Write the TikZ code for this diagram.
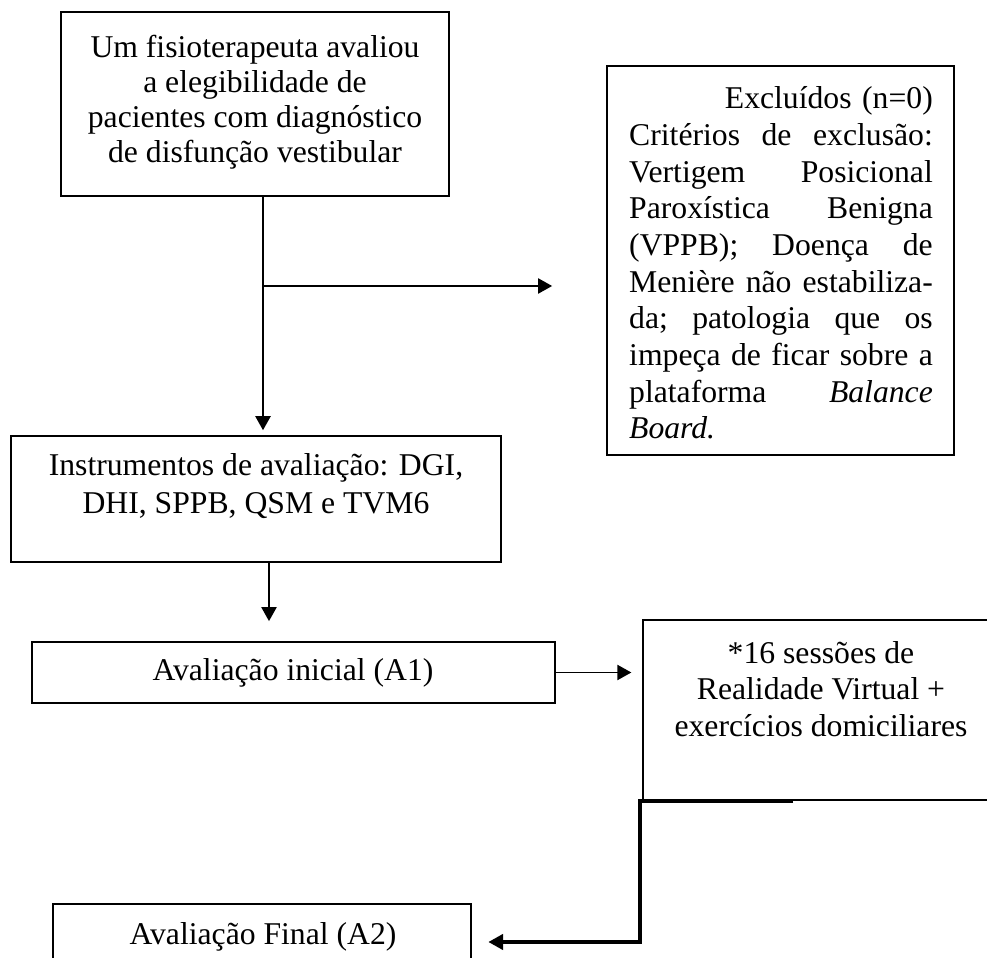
\documentclass[tikz,border=0pt]{standalone}
\usepackage{fontspec}
\setmainfont{Liberation Serif}
\usetikzlibrary{arrows.meta,calc}
\newcommand\jline[1]{\leavevmode\hbox to \linewidth{#1}}
\begin{document}
\begin{tikzpicture}[x=0.3788pt,y=-0.3788pt,
  box/.style={draw,line width=0.6pt,inner sep=0pt,rectangle},
  thinbox/.style={draw,line width=0.45pt,inner sep=0pt,rectangle},
  txt/.style={inner sep=0pt,align=center},
  arr/.style={line width=0.75pt,-{Triangle[length=5.3pt,width=5.7pt]}},
  elbow/.style={line width=1.15pt,-{Triangle[length=5.6pt,width=5.9pt]}}]
\useasboundingbox (0,0) rectangle (987,958);
\clip (0,0) rectangle (987,958);

% boxes
\node[box,minimum width=147pt,minimum height=69.7pt] (b1) at (255,104) {};
\node[box,minimum width=131.4pt,minimum height=147.4pt] (ex) at (780.5,260.5) {};
\node[box,minimum width=185.6pt,minimum height=47.7pt] (b2) at (256,499) {};
\node[box,minimum width=198.1pt,minimum height=23.1pt] (b3) at (293.5,672.5) {};
\node[thinbox,minimum width=135.2pt,minimum height=68.2pt] (b4) at (821.5,710) {};
\node[thinbox,minimum width=158.3pt,minimum height=28.8pt] (b5) at (262,942) {};

% texts
\node[txt,font=\fontsize{12}{13.25}\selectfont] (t1) at (255,102)
  {Um fisioterapeuta avaliou\\a elegibilidade de\\pacientes com diagnóstico\\de disfunção vestibular};
\node[inner sep=0pt,text width=115pt,align=left,font=\fontsize{12}{13.9}\selectfont] (t2) at (781,263)
  {\jline{\hfill Excluídos (n=0)}\\
   \jline{Critérios\hfill de\hfill exclusão:}\\
   \jline{Vertigem\hfill Posicional}\\
   \jline{Paroxística\hfill Benigna}\\
   \jline{(VPPB);\hfill Doença\hfill de}\\
   \jline{Menière\hfill não\hfill estabiliza-}\\
   \jline{da;\hfill patologia\hfill que\hfill os}\\
   \jline{impeça\hfill de\hfill ficar\hfill sobre\hfill a}\\
   \jline{plataforma\hfill \textit{Balance}}\\
   \jline{\textit{Board.}\hfill}};
\node[txt,font=\fontsize{12}{14.4}\selectfont] (t3) at (256,486)
  {Instrumentos de avaliação: DGI,\\DHI, SPPB, QSM e TVM6};
\node[txt,font=\fontsize{12}{13.8}\selectfont] (t4) at (293,673) {Avaliação inicial (A1)};
\node[txt,font=\fontsize{12}{13.8}\selectfont] (t5) at (821,689)
  {*16 sessões de\\Realidade Virtual +\\exercícios domiciliares};
\node[txt,font=\fontsize{12}{13.8}\selectfont] (t6) at (263,937) {Avaliação Final (A2)};

% connectors
\coordinate (c1) at (263,0);
\draw[arr,shorten >=1.9pt] (b1.south -| c1) -- (b2.north -| c1);
\coordinate (br) at (263,286);
\draw[arr,shorten >=20.5pt] (br) -- (br -| ex.west);
\coordinate (c2) at (269,0);
\draw[arr,shorten >=7.6pt] (b2.south -| c2) -- (b3.north -| c2);
\draw[arr,shorten >=4.2pt] (b3.east) -- (b3.east -| b4.west);
\coordinate (e1) at (793,801);
\coordinate (e2) at (640,801);
\draw[elbow,shorten >=6.4pt] (e1) -- (e2) |- (b5.east);
\end{tikzpicture}
\end{document}
